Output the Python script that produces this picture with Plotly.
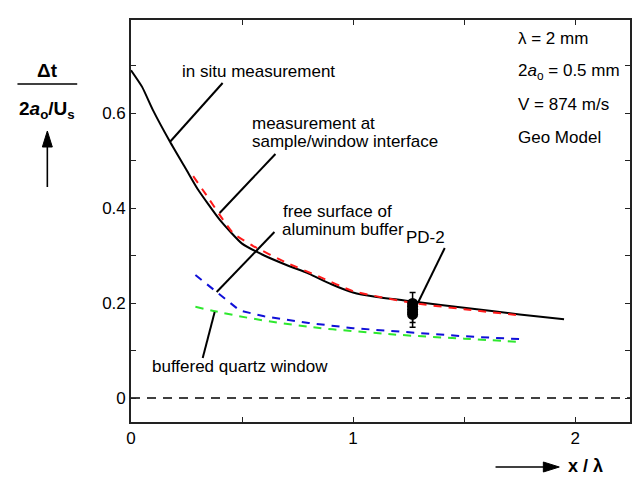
import plotly.graph_objects as go

# --- data -------------------------------------------------------------
# in situ measurement (solid black)
insitu_x = [0.0, 0.05, 0.10, 0.175, 0.25, 0.30, 0.40, 0.50, 0.60, 0.70, 0.80, 0.90,
            1.00, 1.10, 1.27, 1.50, 1.75, 1.95]
insitu_y = [0.690, 0.655, 0.605, 0.540, 0.480, 0.440, 0.375, 0.325, 0.300, 0.280,
            0.262, 0.240, 0.222, 0.213, 0.203, 0.190, 0.176, 0.166]

# measurement at sample/window interface (red dashed)
interface_x = [0.28, 0.35, 0.40, 0.46, 0.55, 0.70, 0.85, 1.00, 1.27, 1.50, 1.75]
interface_y = [0.467, 0.420, 0.385, 0.347, 0.320, 0.285, 0.255, 0.225, 0.200, 0.187, 0.174]

# free surface of aluminum buffer (blue dashed)
buffer_x = [0.29, 0.385, 0.49, 0.60, 0.80, 1.00, 1.27, 1.50, 1.75]
buffer_y = [0.259, 0.224, 0.184, 0.172, 0.158, 0.147, 0.137, 0.130, 0.124]

# buffered quartz window (green dashed)
quartz_x = [0.29, 0.385, 0.55, 0.80, 1.07, 1.27, 1.50, 1.75]
quartz_y = [0.192, 0.182, 0.167, 0.150, 0.138, 0.131, 0.125, 0.118]

# PD-2 gauge records
pd2_x = [1.268, 1.268, 1.268, 1.268, 1.268]
pd2_y = [0.199, 0.193, 0.187, 0.181, 0.176]
pd2_err_plus = [0.023, 0.0, 0.0, 0.0, 0.0]
pd2_err_minus = [0.0, 0.0, 0.0, 0.022, 0.027]

x_ticks = [0, 1, 2]
x_minor_step = 0.5
y_ticks = [0, 0.2, 0.4, 0.6, 0.8]
y_minor_step = 0.1

# --- layout geometry ---------------------------------------------------
W, H = 634, 477
ML, MR, MT, MB = 131, 2, 20, 55
PW, PH = W - ML - MR, H - MT - MB
FONT = "Liberation Sans, Arial, Helvetica, sans-serif"


def paper(xp, yp):
    """pixel position on the page -> paper coordinates"""
    return (xp - ML) / PW, (H - MB - yp) / PH


fig = go.Figure()

fig.add_trace(go.Scatter(x=[0, 2.247], y=[0, 0], mode="lines",
                         line=dict(color="black", width=1.3, dash="9px,7px"),
                         hoverinfo="skip"))
fig.add_trace(go.Scatter(x=quartz_x, y=quartz_y, mode="lines",
                         line=dict(color="#2ee82e", width=2, dash="8px,7px", shape="spline")))
fig.add_trace(go.Scatter(x=buffer_x, y=buffer_y, mode="lines",
                         line=dict(color="#1010d8", width=2, dash="8px,7px")))
fig.add_trace(go.Scatter(x=insitu_x, y=insitu_y, mode="lines",
                         line=dict(color="black", width=2, shape="spline", smoothing=0.5)))
fig.add_trace(go.Scatter(x=interface_x, y=interface_y, mode="lines",
                         line=dict(color="#ff1a1a", width=2, dash="8px,7px", shape="spline",
                                   smoothing=0.5)))
fig.add_trace(go.Scatter(x=pd2_x, y=pd2_y, mode="markers",
                         marker=dict(color="black", size=11, line=dict(width=0)),
                         error_y=dict(type="data", symmetric=False, array=pd2_err_plus,
                                      arrayminus=pd2_err_minus, color="black",
                                      thickness=1.5, width=3)))


def seg(p0, p1, width=2.0):
    x0, y0 = paper(*p0)
    x1, y1 = paper(*p1)
    fig.add_shape(type="line", xref="paper", yref="paper", x0=x0, y0=y0, x1=x1, y1=y1,
                  line=dict(color="black", width=width))


def tri(points):
    pts = [paper(*p) for p in points]
    path = "M {} {} L {} {} L {} {} Z".format(*[v for p in pts for v in p])
    fig.add_shape(type="path", xref="paper", yref="paper", path=path,
                  fillcolor="black", line=dict(color="black", width=1))


# leader lines from the labels to the curves
seg((223, 83), (170, 142))    # in situ measurement
seg((276, 154), (220, 213))   # sample/window interface
seg((275, 232), (217, 292))   # free surface of aluminum buffer
seg((215, 312), (203, 358))   # buffered quartz window
seg((446, 248), (419, 303))   # PD-2

annotations = []


def text(s, xp, yp, size=17, anchor="left"):
    x, y = paper(xp, yp)
    annotations.append(dict(text=s, x=x, y=y, xref="paper", yref="paper",
                            xanchor=anchor, yanchor="middle", showarrow=False,
                            font=dict(family=FONT, size=size, color="black")))


text("in situ measurement", 180, 71)
text("measurement at", 250, 123)
text("sample/window interface", 250, 141)
text("free surface of", 282, 211)
text("aluminum buffer", 281, 229)
text("buffered quartz window", 150, 366)
text("PD-2", 405, 237)

text("\u03bb = 2 mm", 518, 39)
text("2<i>a</i><sub>o</sub> = 0.5 mm", 518, 72)
text("V = 874 m/s", 518, 105)
text("Geo Model", 518, 137)

# y-axis title: fraction with an upward arrow
text("<b>\u0394t</b>", 47, 70, size=19, anchor="center")
text("<b>2<i>a</i><sub>o</sub>/U<sub>s</sub></b>", 47, 110, size=19, anchor="center")
seg((17, 84), (77, 84), width=1.5)
seg((47, 187), (47, 144), width=1.6)
tri([(47, 131), (42, 147), (52, 147)])

# x-axis title with a rightward arrow
text("<b>x / \u03bb</b>", 568, 466, size=18)
seg((497, 467), (548, 467), width=1.6)
tri([(561, 467), (545, 462), (545, 472)])

axis_common = dict(showgrid=False, zeroline=False, showline=True, linecolor="#222",
                   linewidth=1.6, mirror="ticks", ticks="inside", ticklen=5,
                   tickwidth=1.3, tickcolor="#222",
                   tickfont=dict(family=FONT, size=17, color="black"))

fig.update_layout(
    width=W, height=H,
    margin=dict(l=ML, r=MR, t=MT, b=MB),
    paper_bgcolor="white", plot_bgcolor="white",
    showlegend=False,
    xaxis=dict(range=[0, 2.247], tickvals=x_ticks,
               minor=dict(ticks="inside", ticklen=5, tickwidth=1.3, tickcolor="#222",
                          tick0=0, dtick=x_minor_step, showgrid=False),
               **axis_common),
    yaxis=dict(range=[-0.0505, 0.7958], tickvals=y_ticks,
               minor=dict(ticks="inside", ticklen=5, tickwidth=1.3, tickcolor="#222",
                          tick0=0, dtick=y_minor_step, showgrid=False),
               **axis_common),
    annotations=annotations,
)

fig.write_html("out.html")
